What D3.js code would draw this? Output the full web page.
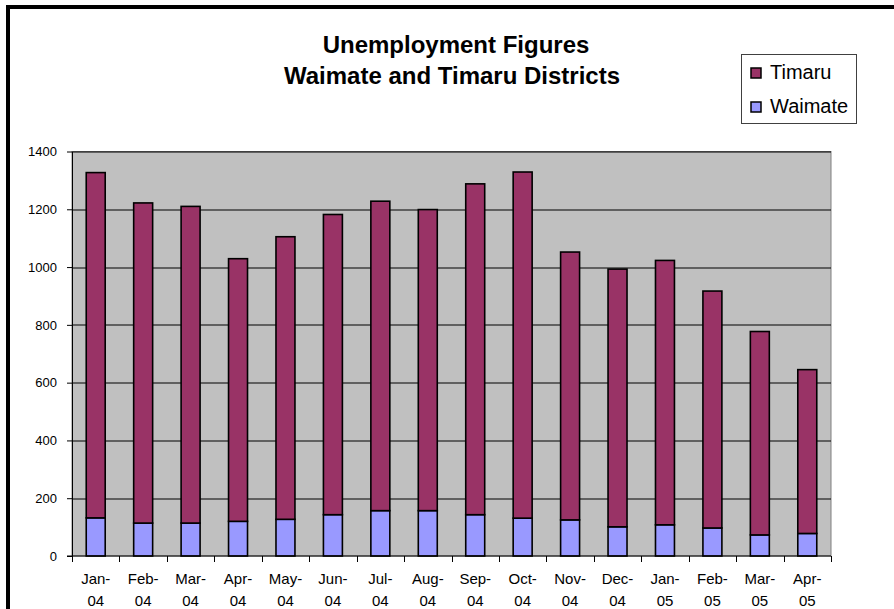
<!DOCTYPE html>
<html>
<head>
<meta charset="utf-8">
<script src="https://cdn.jsdelivr.net/npm/d3@7"></script>
<style>
  body { margin: 0; background: #fff; }
  svg { display: block; font-family: "Liberation Sans", Arial, sans-serif; }
</style>
</head>
<body>
<div id="wrapper"></div>
<script>
// data
const months = ["Jan-04", "Feb-04", "Mar-04", "Apr-04", "May-04", "Jun-04", "Jul-04", "Aug-04",
                "Sep-04", "Oct-04", "Nov-04", "Dec-04", "Jan-05", "Feb-05", "Mar-05", "Apr-05"]
const waimate = [132, 114, 114, 120, 127, 143, 157, 157, 143, 131, 125, 101, 108, 97, 73, 78]
const timaru = [1195, 1108, 1096, 909, 978, 1039, 1071, 1042, 1145, 1198, 927, 892, 915, 820, 704, 567]
const yTicks = [0, 200, 400, 600, 800, 1000, 1200, 1400]
const seriesNames = ["Waimate", "Timaru"]
const colors = { Waimate: "#9999ff", Timaru: "#993366" }

function drawChart() {
  const table = months.map((m, i) => ({ month: m, Waimate: waimate[i], Timaru: timaru[i] }))

  const dimensions = {
    width: 894,
    height: 609,
    margin: { top: 151.5, right: 63, bottom: 53, left: 72 },
  }
  dimensions.boundedWidth = dimensions.width - dimensions.margin.left - dimensions.margin.right
  dimensions.boundedHeight = dimensions.height - dimensions.margin.top - dimensions.margin.bottom

  const wrapper = d3.select("#wrapper")
    .append("svg")
      .attr("width", dimensions.width)
      .attr("height", dimensions.height)

  // outer frame (only left and top edges are in view)
  wrapper.append("path")
      .attr("d", `M 8 ${dimensions.height} L 8 7 L ${dimensions.width} 7`)
      .attr("fill", "none")
      .attr("stroke", "#000")
      .attr("stroke-width", 4)

  // title
  const title = wrapper.append("text")
      .attr("text-anchor", "middle")
      .attr("font-weight", "bold")
      .attr("font-size", 24)
  title.append("tspan").attr("x", 456).attr("y", 53).text("Unemployment Figures")
  title.append("tspan").attr("x", 452).attr("y", 84).text("Waimate and Timaru Districts")

  const bounds = wrapper.append("g")
      .attr("transform", `translate(${dimensions.margin.left},${dimensions.margin.top})`)

  // scales
  const xScale = d3.scaleBand()
      .domain(months)
      .range([0, dimensions.boundedWidth])
      .paddingInner(0.6)
      .paddingOuter(0.3)
  const yScale = d3.scaleLinear()
      .domain([0, 1400])
      .range([dimensions.boundedHeight, 0])

  // plot area
  bounds.append("rect")
      .attr("width", dimensions.boundedWidth)
      .attr("height", dimensions.boundedHeight)
      .attr("fill", "#c0c0c0")
      .attr("stroke", "#808080")

  bounds.append("g")
    .selectAll("line")
    .data(yTicks.filter(d => d > 0))
    .join("line")
      .attr("x1", 0)
      .attr("x2", dimensions.boundedWidth)
      .attr("y1", d => Math.round(yScale(d)) + 0.5)
      .attr("y2", d => Math.round(yScale(d)) + 0.5)
      .attr("stroke", "#000")

  // bars
  const stacked = d3.stack().keys(seriesNames)(table)
  bounds.append("g")
    .selectAll("g")
    .data(stacked)
    .join("g")
      .attr("fill", d => colors[d.key])
    .selectAll("rect")
    .data(d => d)
    .join("rect")
      .attr("x", d => xScale(d.data.month))
      .attr("y", d => yScale(d[1]))
      .attr("width", xScale.bandwidth())
      .attr("height", d => yScale(d[0]) - yScale(d[1]))
      .attr("stroke", "#000")
      .attr("stroke-width", 1.6)

  // y axis
  const yAxis = d3.axisLeft(yScale)
      .tickValues(yTicks)
      .tickFormat(d3.format("d"))
      .tickSize(5)
      .tickSizeOuter(0)
      .tickPadding(10)
  const yAxisG = bounds.append("g").call(yAxis)
  yAxisG.select(".domain").attr("stroke", "#000")
  yAxisG.selectAll("text")
      .attr("font-size", 13)
      .attr("font-family", "Liberation Sans, Arial, sans-serif")
      .attr("fill", "#000")

  // x axis: ticks at band boundaries
  const xAxisG = bounds.append("g")
      .attr("transform", `translate(0,${dimensions.boundedHeight})`)
  xAxisG.append("line")
      .attr("x1", -5)
      .attr("x2", dimensions.boundedWidth)
      .attr("stroke", "#000")
  xAxisG.selectAll(".tick")
    .data(d3.range(months.length + 1))
    .join("line")
      .attr("class", "tick")
      .attr("x1", i => Math.round(i * xScale.step()) + 0.5)
      .attr("x2", i => Math.round(i * xScale.step()) + 0.5)
      .attr("y1", 0)
      .attr("y2", 6)
      .attr("stroke", "#000")
  const xLabels = xAxisG.selectAll(".label")
    .data(months)
    .join("text")
      .attr("class", "label")
      .attr("text-anchor", "middle")
      .attr("font-size", 15)
  xLabels.append("tspan")
      .attr("x", d => xScale(d) + xScale.bandwidth() / 2)
      .attr("y", 28)
      .text(d => d.split("-")[0] + "-")
  xLabels.append("tspan")
      .attr("x", d => xScale(d) + xScale.bandwidth() / 2)
      .attr("y", 50)
      .text(d => d.split("-")[1])

  // legend
  const legend = wrapper.append("g")
      .attr("transform", "translate(741,54)")
  legend.append("rect")
      .attr("x", 0.5)
      .attr("y", 0.5)
      .attr("width", 115)
      .attr("height", 69)
      .attr("fill", "#fff")
      .attr("stroke", "#404040")
  const items = legend.selectAll(".item")
    .data(["Timaru", "Waimate"])
    .join("g")
      .attr("class", "item")
      .attr("transform", (d, i) => `translate(0,${i * 34})`)
  items.append("rect")
      .attr("x", 10)
      .attr("y", 14)
      .attr("width", 10)
      .attr("height", 10)
      .attr("fill", d => colors[d])
      .attr("stroke", "#000")
      .attr("stroke-width", 1.5)
  items.append("text")
      .attr("x", 29)
      .attr("y", 25)
      .attr("font-size", 20)
      .text(d => d)
}

drawChart()
</script>
</body>
</html>
